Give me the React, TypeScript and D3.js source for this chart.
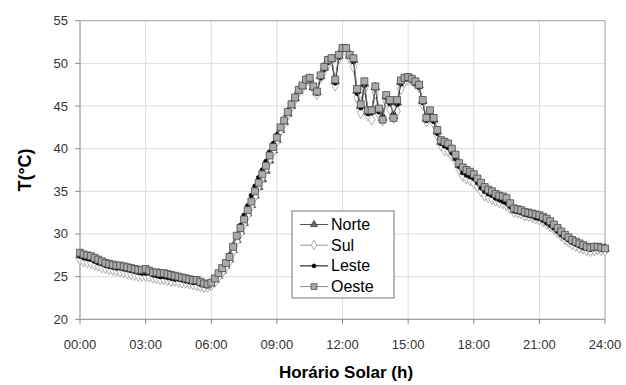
import React from "react";
import * as d3 from "d3";

// temperatures every 10 min, 00:00 .. 24:00
const norte = [
  27.5, 27.3, 27.2, 27.1, 26.9, 26.7, 26.6, 26.4, 26.3, 26.2, 26.1, 26.1,
  26.0, 25.9, 25.8, 25.7, 25.6, 25.5, 25.6, 25.5, 25.3, 25.3, 25.2, 25.1,
  25.0, 24.9, 24.9, 24.8, 24.7, 24.6, 24.5, 24.4, 24.4, 24.2, 24.1, 24.0,
  24.2, 24.6, 25.1, 25.7, 26.3, 27.0, 28.1, 29.3, 30.3, 31.3, 32.4, 33.4,
  34.5, 35.5, 36.4, 37.4, 38.6, 39.8, 41.0, 42.2, 43.1, 44.1, 45.0, 45.9,
  46.8, 47.3, 48.0, 48.2, 47.2, 46.6, 48.5, 49.5, 50.3, 50.5, 47.9, 50.9,
  51.7, 51.7, 50.9, 50.4, 46.8, 45.0, 47.6, 44.3, 44.4, 47.2, 44.5, 43.6,
  46.1, 45.5, 43.8, 45.4, 47.8, 48.2, 48.3, 48.1, 47.8, 47.4, 45.6, 43.5,
  44.2, 43.4, 42.0, 40.8, 40.5, 40.3, 39.7, 39.0, 38.1, 37.5, 37.2, 37.0,
  36.7, 36.2, 35.7, 35.2, 34.9, 34.7, 34.4, 34.2, 34.1, 33.9, 33.4, 32.8,
  32.7, 32.6, 32.4, 32.3, 32.2, 32.1, 32.0, 31.8, 31.6, 31.3, 30.9, 30.5,
  30.1, 29.7, 29.4, 29.1, 28.9, 28.7, 28.5, 28.4, 28.3, 28.4, 28.4, 28.3,
  28.3,
];
const sul = [
  27.0, 26.8, 26.7, 26.6, 26.4, 26.3, 26.1, 26.0, 25.9, 25.8, 25.7, 25.6,
  25.5, 25.4, 25.3, 25.2, 25.1, 25.1, 25.1, 25.0, 24.9, 24.8, 24.7, 24.7,
  24.6, 24.5, 24.5, 24.4, 24.3, 24.3, 24.2, 24.1, 24.0, 23.9, 23.8, 23.8,
  24.0, 24.4, 24.9, 25.5, 26.1, 26.8, 27.9, 29.1, 30.1, 31.2, 32.2, 33.3,
  34.4, 35.6, 36.6, 37.6, 38.7, 39.7, 40.9, 42.1, 43.0, 44.0, 44.9, 45.8,
  46.7, 47.2, 47.9, 48.0, 47.1, 46.4, 48.3, 49.2, 50.0, 50.3, 47.4, 50.6,
  51.5, 51.4, 50.6, 49.6, 46.0, 44.2, 47.0, 43.9, 43.4, 46.5, 44.0, 43.3,
  45.5, 44.6, 43.6, 44.4, 47.0, 47.8, 48.1, 48.0, 47.6, 47.2, 45.2, 43.2,
  43.8, 43.0, 41.6, 40.4, 39.8, 39.7, 39.2, 38.6, 37.6, 36.8, 36.5, 36.3,
  36.0, 35.6, 35.0, 34.5, 34.3, 34.1, 33.9, 33.7, 33.6, 33.4, 33.0, 32.6,
  32.5, 32.4, 32.2, 32.1, 32.0, 31.8, 31.7, 31.5, 31.2, 30.9, 30.6, 30.2,
  29.8, 29.4, 29.1, 28.8, 28.6, 28.4, 28.3, 28.1, 28.0, 28.1, 28.2, 28.1,
  28.0,
];
const leste = [
  27.4, 27.2, 27.1, 27.0, 26.8, 26.6, 26.5, 26.3, 26.2, 26.1, 26.0, 26.0,
  25.9, 25.8, 25.7, 25.6, 25.5, 25.4, 25.4, 25.4, 25.2, 25.1, 25.0, 25.0,
  24.9, 24.8, 24.7, 24.7, 24.6, 24.5, 24.4, 24.3, 24.3, 24.1, 24.0, 23.9,
  24.2, 24.7, 25.3, 26.0, 26.7, 27.5, 28.6, 29.9, 31.0, 32.2, 33.3, 34.5,
  35.6, 36.6, 37.5, 38.5, 39.6, 40.6, 41.6, 42.6, 43.4, 44.4, 45.2, 46.0,
  46.8, 47.3, 47.9, 48.1, 47.1, 46.5, 48.3, 49.3, 50.1, 50.4, 47.7, 50.7,
  51.6, 51.6, 50.8, 50.2, 46.5, 44.8, 47.4, 44.1, 44.2, 47.1, 44.3, 43.8,
  46.0, 45.3, 44.0, 45.2, 47.6, 48.1, 48.2, 48.0, 47.6, 47.2, 45.4, 43.3,
  43.9, 43.2, 41.8, 40.6, 40.3, 40.1, 39.5, 38.8, 37.9, 37.2, 36.9, 36.7,
  36.5, 36.0, 35.4, 35.0, 34.7, 34.5, 34.2, 34.0, 33.8, 33.6, 33.2, 32.7,
  32.6, 32.5, 32.3, 32.2, 32.1, 31.9, 31.8, 31.6, 31.3, 31.0, 30.7, 30.3,
  29.9, 29.6, 29.3, 29.0, 28.8, 28.6, 28.4, 28.3, 28.2, 28.3, 28.3, 28.2,
  28.2,
];
const oeste = [
  27.8, 27.6, 27.5, 27.4, 27.2, 27.0, 26.8, 26.6, 26.5, 26.4, 26.3, 26.3,
  26.2, 26.1, 26.0, 25.9, 25.8, 25.8, 25.9, 25.7, 25.5, 25.5, 25.4, 25.4,
  25.3, 25.2, 25.1, 25.0, 24.9, 24.8, 24.7, 24.6, 24.6, 24.4, 24.2, 24.1,
  24.3, 24.8, 25.4, 26.0, 26.6, 27.3, 28.5, 29.8, 30.7, 31.7, 32.8, 33.8,
  35.0, 36.0, 37.0, 38.0, 39.2, 40.2, 41.3, 42.5, 43.3, 44.3, 45.2, 46.0,
  46.9, 47.4, 48.1, 48.3, 47.3, 46.7, 48.6, 49.6, 50.4, 50.6, 48.1, 51.0,
  51.8, 51.8, 51.0, 50.6, 47.0, 45.2, 47.9, 44.5, 44.5, 47.3, 44.7, 43.4,
  46.3, 45.7, 43.6, 45.7, 48.0, 48.3, 48.4, 48.2, 47.9, 47.5, 45.7, 43.6,
  44.5, 43.6, 42.2, 41.0, 40.8, 40.6, 40.0, 39.3, 38.3, 37.8, 37.5, 37.3,
  37.0, 36.5, 36.0, 35.5, 35.2, 35.0, 34.7, 34.5, 34.4, 34.2, 33.6, 33.0,
  32.9, 32.8, 32.6, 32.5, 32.4, 32.3, 32.2, 32.0, 31.8, 31.5, 31.1, 30.7,
  30.3, 29.9, 29.6, 29.3, 29.1, 28.9, 28.7, 28.5, 28.4, 28.5, 28.5, 28.4,
  28.3,
];
const xTicks = [0, 3, 6, 9, 12, 15, 18, 21, 24];
const yTicks = [20, 25, 30, 35, 40, 45, 50, 55];

const series = [
  { name: "Norte", values: norte, shape: d3.symbolTriangle, size: 32, fill: "#666", stroke: "#444", line: "#555" },
  { name: "Sul", values: sul, shape: d3.symbolDiamond, size: 36, fill: "#fff", stroke: "#999", line: "#999" },
  { name: "Leste", values: leste, shape: d3.symbolCircle, size: 16, fill: "#000", stroke: "#000", line: "#000" },
  { name: "Oeste", values: oeste, shape: d3.symbolSquare, size: 48, fill: "#aaaaaa", stroke: "#4a4a4a", line: "#888" },
];

const W = 626, H = 385;
const left = 80, right = 605, top = 20.7, bottom = 319.3;
const font = "Liberation Sans, Arial, sans-serif";

const hh = (d: number) => (d < 10 ? "0" + d : "" + d) + ":00";

export default function App() {
  const x = d3.scaleLinear().domain([0, 24]).range([left, right]);
  const y = d3.scaleLinear().domain([20, 55]).range([bottom, top]);
  const line = d3.line<number>().x((_, i) => x(i / 6)).y(d => y(d));

  return (
    <svg width={W} height={H} style={{ position: "absolute", left: 0, top: 0, background: "#fff" }} fontFamily={font}>
      {/* grid */}
      {xTicks.slice(1, -1).map(t => (
        <line key={"gx" + t} x1={x(t)} x2={x(t)} y1={top} y2={bottom} stroke="#dcdcdc" strokeWidth={1} />
      ))}
      {yTicks.slice(1, -1).map(t => (
        <line key={"gy" + t} x1={left} x2={right} y1={y(t)} y2={y(t)} stroke="#dcdcdc" strokeWidth={1} />
      ))}
      <line x1={left} x2={right} y1={top} y2={top} stroke="#a0a0a0" />
      <line x1={right} x2={right} y1={top} y2={bottom} stroke="#a0a0a0" />
      <line x1={left} x2={right} y1={bottom} y2={bottom} stroke="#888" />
      <line x1={left} x2={left} y1={top} y2={bottom} stroke="#888" />

      {/* ticks */}
      {yTicks.map(t => (
        <g key={"ty" + t}>
          <line x1={left - 5} x2={left} y1={y(t)} y2={y(t)} stroke="#888" />
          <text x={left - 12} y={y(t) + 4.5} textAnchor="end" fontSize={13} fill="#333">{t}</text>
        </g>
      ))}
      {xTicks.map(t => (
        <g key={"tx" + t}>
          <line x1={x(t)} x2={x(t)} y1={bottom} y2={bottom + 5} stroke="#888" />
          <text x={x(t)} y={349} textAnchor="middle" fontSize={13} fill="#333">{hh(t)}</text>
        </g>
      ))}

      {/* series */}
      {series.map(s => (
        <g key={s.name}>
          <path d={line(s.values) || ""} fill="none" stroke={s.line} strokeWidth={0.9} />
          {s.values.map((v, i) => (
            <path key={i} transform={`translate(${x(i / 6)},${y(v)})`}
              d={d3.symbol().type(s.shape).size(s.size)() || ""}
              fill={s.fill} stroke={s.stroke} strokeWidth={0.8} />
          ))}
        </g>
      ))}

      {/* legend */}
      <rect x={292} y={211} width={102} height={87} fill="#fff" stroke="#777" strokeWidth={1} />
      {series.map((s, i) => {
        const cy = 224.5 + i * 20.7;
        return (
          <g key={"lg" + s.name}>
            <line x1={300} x2={328} y1={cy} y2={cy} stroke={s.line} strokeWidth={1} />
            <path transform={`translate(314,${cy})`} d={d3.symbol().type(s.shape).size(s.size * 0.7)() || ""}
              fill={s.fill} stroke={s.stroke} strokeWidth={0.8} />
            <text x={331} y={cy + 5.5} fontSize={16} fill="#000">{s.name}</text>
          </g>
        );
      })}

      {/* titles */}
      <text x={346} y={378} textAnchor="middle" fontSize={17} fontWeight="bold" fill="#000">Horário Solar (h)</text>
      <text transform="translate(31,170) rotate(-90)" textAnchor="middle" fontSize={18} fontWeight="bold" fill="#000">T(°C)</text>
    </svg>
  );
}
